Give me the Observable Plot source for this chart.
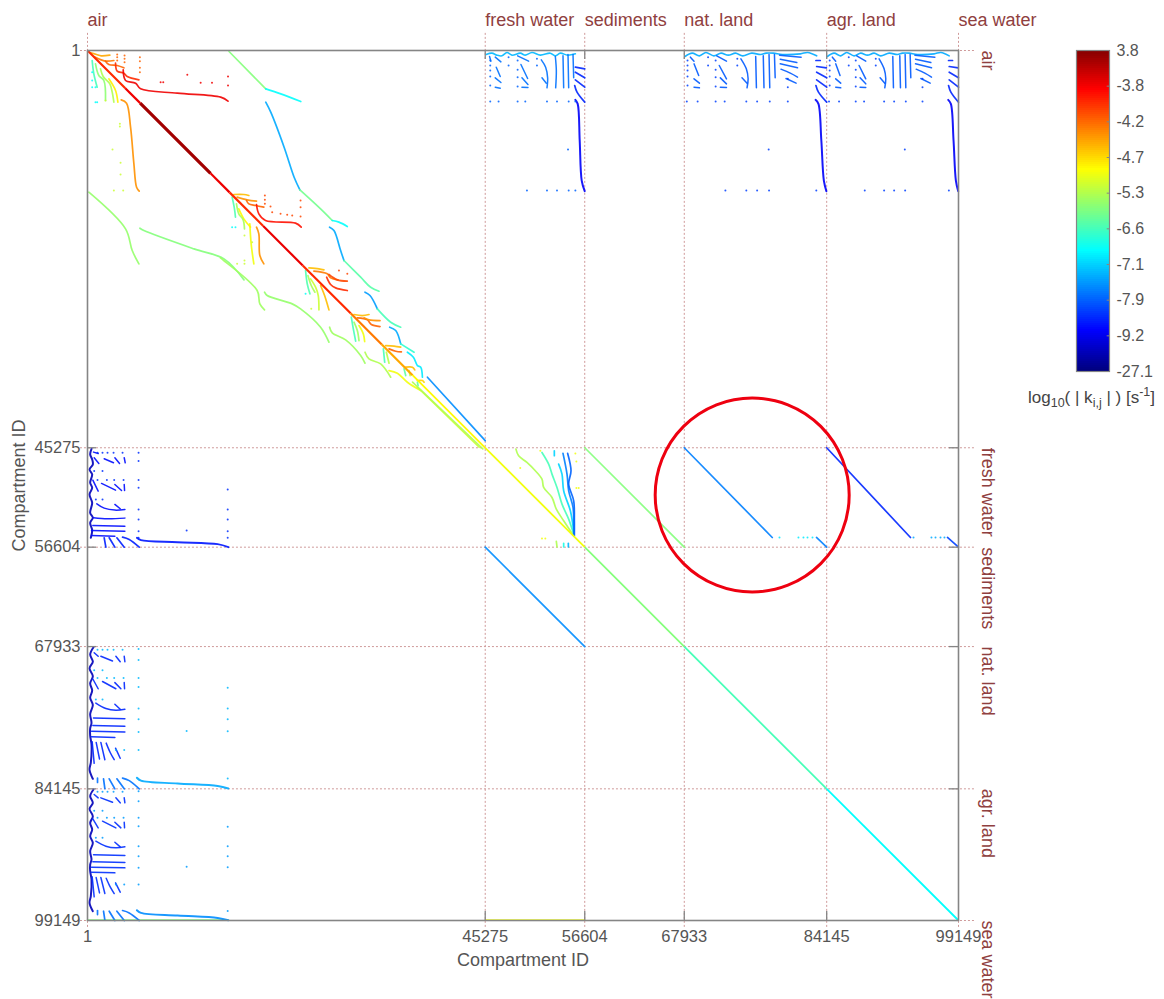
<!DOCTYPE html>
<html><head><meta charset="utf-8">
<script src="https://cdn.jsdelivr.net/npm/d3@7"></script>
<script src="https://cdn.jsdelivr.net/npm/@observablehq/plot@0.6"></script>
<style>
html,body{margin:0;padding:0;background:#fff;overflow:hidden}
#main,#bar{position:absolute;top:0}
#main{left:0}#bar{left:1060px}
#unit{position:absolute;left:1028px;top:388px;font:17px "Liberation Sans",sans-serif;color:#444;white-space:nowrap}
#unit sub,#unit sup{font-size:12.5px;line-height:0}
</style></head><body>
<div id="main"></div><div id="bar"></div>
<div id="unit">log<sub>10</sub>( | k<sub>i,j</sub> | ) [s<sup>-1</sup>]</div>
<script>
// ---------- axes ----------
const blockStarts=[1,45275,56604,67933,84145,99149];
const blockNames=["air","fresh water","sediments","nat. land","agr. land","sea water"];
const colorLabels=[-27.1,-9.2,-7.9,-7.1,-6.6,-5.3,-4.7,-4.2,-3.8,3.8];

// ---------- main diagonal: [from ID, to ID, log10 k] ----------
const diagonal=[[1,4300,-4.0],[4300,6000,-3.7],[6000,14000,1.5],[14000,16170,-3.5],[16170,20000,-4.0],[20000,24500,-3.3],[24500,29950,-4.0],[29950,33500,-4.3],[33500,37000,-4.5],[37000,45275,-4.9],[45275,56604,-5.0],[56604,67933,-5.9],[67933,84145,-6.6],[84145,99149,-6.9]];

// ---------- air block fans: [log10 k, points] ----------
const airFans=[
[-4.5,[[266,228],[1026,456],[1558,608],[2546,532]]],
[-4.3,[[722,684],[1558,1064],[2166,1216],[3002,1140]]],
[-4.2,[[2052,1216],[2432,1596],[3382,1710],[4142,1976]]],
[-4.0,[[3192,1444],[3382,2356],[4142,2584],[4522,2964],[5852,3344]]],
[-3.75,[[4066,2204],[4332,3420],[5472,3724],[6042,4370],[10222,4864],[15162,5320],[15998,5776]]],
[-4.4,[[3838,5624],[4446,6004],[4902,8740],[5282,12920],[5586,15580],[5890,16036]]],
[-4.85,[[2432,3230],[3192,4560],[3458,5890]]],
[-5.4,[[1482,2090],[1786,2964],[2546,3800],[2812,4750],[3002,5890]]],
[-5.8,[[912,1520],[1292,2850],[1862,3420],[2052,5700]]],
[-6.6,[[532,1140],[722,2660],[1102,4180]]],
// second block
[-4.6,[[16655,16411],[17795,16411],[18365,16525]]],
[-4.4,[[17035,16715],[18175,17019],[19239,17171]]],
[-4.2,[[18099,17095],[18365,17475],[19125,17665],[20075,17855]]],
[-3.9,[[19239,17551],[19505,18615],[20265,19375],[23685,19679],[24331,20135]]],
[-4.4,[[19239,20135],[19505,20895],[19619,23365],[20075,24315]]],
[-5.0,[[18479,19755],[18631,22035],[18935,24315]]],
[-4.9,[[17225,18045],[17795,19185],[18555,20135]]],
[-5.5,[[16959,17475],[17225,18615],[17719,19299],[17871,20325]]],
[-6.5,[[16465,16715],[16731,18045],[16845,18995]]],
// third block
[-4.6,[[25205,24771],[26345,24885],[26915,24999]]],
[-4.3,[[25775,25151],[27295,25455],[27675,25911],[28511,26139]]],
[-4.0,[[27219,25835],[27675,26671],[28245,27051],[29575,27355]]],
[-4.1,[[27485,25531],[28435,26139],[29575,26291]]],
[-4.6,[[26535,26785],[26991,27925],[27485,29559]]],
[-5.2,[[25395,26025],[25965,26975],[26269,27925],[26345,29559]]],
[-5.5,[[25091,25645],[25471,26785],[25889,27545]]],
[-6.5,[[24825,25075],[25015,26595],[25319,27735]]],
// fourth block
[-4.6,[[30335,30091],[31285,30205],[32045,30091]]],
[-4.2,[[30715,30471],[31855,30699],[32311,31231],[33299,31459]]],
[-4.4,[[31475,30471],[32045,30699],[33299,30775]]],
[-5.0,[[30905,31345],[31399,32295],[31551,33169]]],
[-5.6,[[30335,30965],[30715,31915],[30905,33055]]],
[-6.6,[[30031,30395],[30259,31725],[30525,33131]]],
// fifth block
[-4.6,[[33945,33625],[34895,33701],[35655,33815]]],
[-4.2,[[34325,34005],[35085,34271],[35731,34347]]],
[-5.3,[[34021,34385],[34325,35639]]],
[-6.6,[[33679,34005],[33831,35525]]],
// sixth and seventh blocks
[-4.6,[[36225,36095],[36985,36095],[37251,36399]]],
[-6.3,[[36035,36285],[36225,37045]]],
[-5.3,[[36605,36475],[36719,37045]]],
[-4.7,[[37555,37615],[38125,37615],[38315,37805]]],
[-6.3,[[37555,37805],[37631,38185]]]
];
const airFanDots=[
[-4.2,[[4218,570],[4218,950],[4218,1330],[5966,760],[5966,1216],[5966,1976],[5966,2470],[3382,456],[3382,760],[3382,1140]]],
[-3.8,[[11362,2774],[8322,3610],[8626,3610],[12882,3686],[14174,3686],[15998,2964],[15998,3990]]],
[-6.9,[[532,2470],[532,3420],[532,4180],[912,4180],[912,5890],[1102,5890]]],
[-5.2,[[2052,5700],[3686,8360],[3686,8664],[2850,11286],[3762,12806],[3762,14136],[3002,15960],[4066,15960]]],
[-4.1,[[20189,16525],[20189,17019],[20189,17475],[20835,17779],[21025,18425],[21975,18615],[22735,18729],[23305,18805],[24255,17095],[24255,17855],[24255,18919],[28625,25075],[29575,25455]]],
[-6.9,[[16465,20135],[16845,20135],[24825,27735]]],
[-5.2,[[17871,21085],[17035,24315],[17871,23935],[17871,24315],[18745,21845],[25471,29445]]]
];

// ---------- couplings inside air ----------
const airAbove=[
[-5.9,[[16112,114],[20292,4370]]],
[-6.9,[[20292,4370],[22002,4940],[24282,5814]]],
[-7.4,[[20292,5890],[20862,7030],[22382,11020],[23522,14440],[24179,15879]]],
[-6.1,[[24179,15879],[26535,18045],[27865,19375]]],
[-6.9,[[27865,19375],[28625,19565],[29575,20059]]],
[-7.4,[[27561,20135],[28055,20515],[28815,22795],[29195,23935]]],
[-6.4,[[29195,23935],[31095,25835],[32235,26975],[33185,27431]]],
[-7.5,[[31589,27545],[32159,27925],[32995,29445]]],
[-6.6,[[32995,29445],[34515,30965],[35655,31535]]],
[-7.4,[[34401,31535],[35085,31915],[35655,33435]]],
[-6.7,[[35655,33435],[37175,34385]]],
[-7.0,[[36415,34385],[37099,34955],[37555,35905],[37935,36095],[38125,37235]]],
[-7.6,[[38695,37235],[45275,44455]]]
];
const airBelow=[
[-5.7,[[152,16150],[4332,20330],[5092,22800],[5852,24320]]],
[-5.9,[[5966,20254],[6422,20520],[12122,22610],[15542,23750],[17822,26144]]],
[-5.6,[[15135,23631],[15515,23935],[19315,27355],[19619,28875],[20151,29559]]],
[-5.7,[[20151,27545],[20455,27925],[23305,28875],[24255,29445],[26535,31535],[27485,33245]]],
[-5.6,[[27561,31535],[27865,32181],[29385,32979],[31095,34765],[31589,35639]]],
[-5.4,[[31589,34385],[32045,35145],[33375,35715],[34515,37235]]],
[-5.0,[[34325,36475],[35275,36779],[36415,37805],[37935,38755]]],
[-5.2,[[37555,38375],[44585,45215]]],
[-5.4,[[37000,37800],[45000,45400]]]
];

// ---------- exchange with fresh water: [along water, along air] ----------
const freshBand=[[114,456],[760,304],[1330,532],[1900,608],[2470,228],[3040,532],[3990,304],[4560,532],[5320,228],[6270,532],[7410,304],[7980,608],[8550,304],[9386,532],[10260,380]];
const freshDrips=[
[[494,684],[646,1216]],[[1140,760],[1786,1292]],[[1254,1900],[1710,2964]],[[1140,3116],[1786,3648]],[[1140,4180],[1710,4294]],
[[3686,608],[4940,1216]],[[4066,1596],[4826,3192]],[[4180,3116],[4864,3876]],[[4180,4180],[4864,4218]],
[[6384,1064],[6878,1900],[7106,3116],[7030,4256]],[[6460,3116],[6954,3724]],
[[7980,684],[8094,2280],[8018,4256]],[[8854,608],[8930,4256]],[[9424,456],[9500,4256]],[[9994,456],[10070,3116]]
];
const freshCurves=[
[[10260,1900],[11329,2090]],[[10260,2470],[11329,3116]],[[10260,3344],[11329,4180]],[[10184,3990],[10450,4750],[11329,5890]]
];
const freshTail=[[10260,5624],[10526,6080],[10754,10260],[10982,14820],[11324,16036]];
const freshDots=[[570,1140],[570,1710],[570,2280],[570,2964],[570,3990],[2660,760],[2660,1710],[3686,1140],[3686,2204],[3686,3040],[3686,4104],[5890,950],[5890,1710],
[570,5814],[1520,5814],[3686,5814],[4560,5814],[7030,5814],[8170,5814],[9500,5814],[10260,5814],[9424,11286],[4750,15960],[7030,15960],[8170,15960],[9500,15960],[10260,15960]];

// ---------- exchange with land: [along land, along air] ----------
const landBand=[[76,684],[836,304],[1596,608],[2280,228],[3116,608],[3876,304],[4636,532],[5396,304],[6156,608],[7106,304],[8056,456],[8626,304],[9386,304],[10336,456],[12236,380],[12996,228],[13946,608]];
const landDrips=[
[[646,760],[1026,1216]],[[1026,1520],[1520,2850]],[[1026,3230],[1596,3724]],[[1026,4180],[1596,4256]],
[[3420,608],[4446,1216]],[[3686,1710],[4446,3230]],[[3800,3116],[4446,3800]],[[3800,4180],[4446,4218]],
[[5966,950],[6536,2090],[6726,3230],[6612,4256]],[[6080,3116],[6612,3724]],
[[7524,684],[7600,4256]],[[8322,608],[8398,4256]],[[8930,456],[9006,4256]],[[9500,456],[9576,3116]],
[[10032,532],[12312,760]],[[10108,988],[11856,1368]],[[10108,1520],[11932,1976]],[[10184,2128],[11172,2584],[11932,3040]],[[10716,3192],[11780,3724]]
];
const landCurves=[
[[13870,1140],[14326,1140]],[[13946,1824],[14972,1976]],[[13946,2470],[15004,3116]],[[13946,3344],[15004,4180]],[[13870,3990],[14136,4750],[15004,5890]]
];
const landTail=[[13832,5624],[14136,6080],[14440,10260],[14706,14820],[14972,16036]];
const landDots=[[342,1140],[342,1710],[342,2280],[342,2964],[342,3990],[2508,760],[2508,1710],[3306,1140],[3306,2204],[3306,3040],[3306,4104],[5586,950],[5586,1710],[10906,3230],[10906,4180],
[266,5814],[1406,5814],[3306,5814],[4256,5814],[6536,5814],[7676,5814],[9006,5814],[10906,5814],[8892,11286],[4332,15960],[6536,15960],[7676,15960],[8930,15960],[13908,15960]];

// log10 k per use: band, drips, curves, tail, dots
const freshTopK=[-7.3,-7.8,-8.6,-9.1,-7.9];
const freshLeftK=[-18,-8.9,-8.7,-8.8,-8.5];
const natTopK=[-7.4,-8.0,-8.6,-9.1,-8.3];
const natLeftK=[-18,-8.6,-7.8,-7.4,-7.3];
const agrTopK=[-7.4,-8.0,-8.6,-9.1,-8.3];
const agrLeftK=[-18,-8.5,-7.8,-7.6,-7.5];

// ---------- water, sediments and land ----------
const freshFans=[
[-5.4,[[3496,152],[3800,912],[4750,1672],[5700,2622],[6460,3572],[6650,4522],[7600,5662],[8094,6992],[8930,8322],[10070,10032]]],
[-6.6,[[6460,532],[7220,1862],[7600,3002],[8170,4522],[8740,6422],[9500,8132],[10070,9842]]],
[-7.1,[[7866,342],[7866,912]]],
[-7.1,[[8360,1862],[8740,3002],[8930,4902],[9690,7182],[10070,9462]]],
[-7.7,[[8854,646],[9310,3002],[9500,4902],[9994,6802],[10070,9842]]],
[-7.9,[[9386,646],[9766,2622],[9500,4142],[10070,6042],[10146,8322],[10146,10032]]],
[-5.4,[[8094,10678],[8170,11286]]],
[-6.8,[[8930,10906],[8930,11286]]],
[-7.3,[[9462,10906],[9462,11286]]]
];
const freshFanDots=[[3990,2318],[6270,342],[10260,646],[10374,1558],[10374,4598],[10640,4598],[6460,10336],[6840,10336]];
const longBands=[
[-5.9,[[56604,45275],[67933,56604]]],
[-7.6,[[45275,56604],[56604,67933]]],
[-7.7,[[67933,45275],[77950,55499]]],
[-7.7,[[82983,55499],[84145,56604]]],
[-8.6,[[84145,45275],[93683,55499]]],
[-8.3,[[97894,55499],[99149,56604]]],
[-5.9,[[1,99100],[16000,99100]]],
[-5.0,[[45275,99100],[56604,99100]]]
];
const landGapDots=[[-7.0,[[78770,55499],[80930,55499],[81500,55499],[81960,55499],[82530,55499]]],[-7.4,[[94030,55499],[96070,55499],[96530,55499],[97100,55499],[97550,55499]]]];
const highlight=[[75664,50656]];

// ---------- tables for the marks ----------
const lineRows=[],dotRows=[];let nid=0;
function addLine(k,pts,mx=p=>p[0],my=p=>p[1],w=1.7){const id=nid++;for(const p of pts)lineRows.push({id,k,w,x:mx(p),y:my(p)});}
function addDots(k,pts,mx=p=>p[0],my=p=>p[1]){for(const p of pts)dotRows.push({k,x:mx(p),y:my(p)});}
airFans.forEach(([k,p])=>addLine(k,p));
airAbove.forEach(([k,p])=>addLine(k,p));
airBelow.forEach(([k,p])=>addLine(k,p));
longBands.forEach(([k,p])=>addLine(k,p));
airFanDots.forEach(([k,p])=>addDots(k,p));
landGapDots.forEach(([k,p])=>addDots(k,p));
freshFans.forEach(([k,p])=>addLine(k,p,q=>45275+q[0],q=>45275+q[1]));
addDots(-5,freshFanDots,q=>45275+q[0],q=>45275+q[1]);
function exchange(start,s,band,drips,curves,tail,dots,topK,leftK){
  const a=q=>start+q[0]*s,b=q=>1+q[1];
  [[topK,a,b],[leftK,b,a]].forEach(([K,mx,my])=>{
    addLine(K[0],band,mx,my,K[0]<-10?2:1.6);
    drips.forEach(p=>addLine(K[1],p,mx,my,1.5));
    curves.forEach(p=>addLine(K[2],p,mx,my,1.7));
    addLine(K[3],tail,mx,my,2);
    addDots(K[4],dots,mx,my);
  });
}
exchange(45275,1,freshBand,freshDrips,freshCurves,freshTail,freshDots,freshTopK,freshLeftK);
exchange(67933,16212/15004,landBand,landDrips,landCurves,landTail,landDots,natTopK,natLeftK);
exchange(84145,1,landBand,landDrips,landCurves,landTail,landDots,agrTopK,agrLeftK);

// jet colour map, with the colour bar's equal-height labels
const jetPos=[0,1/8,3/8,5/8,7/8,1];
const jetCol=["#000080","#0000ff","#00ffff","#ffff00","#ff0000","#800000"];
const jet=d3.scaleLinear().domain(jetPos).range(jetCol);
const kinkK=[-9.04,-6.91,-4.93,-3.85];
const stops=[...colorLabels.map((k,i)=>[k,i/9]),...kinkK.map((k,i)=>[k,jetPos[i+1]])].sort((a,b)=>a[0]-b[0]);

const frameCol="#858585",dashCol="#cf9a9a",nameCol="#8f4040",textCol="#555";
const inner=blockStarts.slice(1,-1);
const main=Plot.plot({
  width:1164,height:999,marginLeft:87,marginRight:206,marginTop:50,marginBottom:79,
  style:{fontFamily:"'Liberation Sans',sans-serif",fontSize:"16.5px",background:"#fff"},
  x:{domain:[1,99149]},
  y:{domain:[1,99149],range:[50,920]},
  color:{type:"linear",domain:stops.map(d=>d[0]),range:stops.map(d=>jet(d[1]))},
  marks:[
    Plot.ruleX(blockStarts,{y1:-1950,y2:99950,stroke:dashCol,strokeWidth:1,strokeDasharray:"2,2"}),
    Plot.ruleY(blockStarts,{x1:-800,x2:101100,stroke:dashCol,strokeWidth:1,strokeDasharray:"2,2"}),
    Plot.line(lineRows,{x:"x",y:"y",z:"id",stroke:"k",strokeWidth:"w",strokeOpacity:.9,strokeLinejoin:"round",curve:"catmull-rom"}),
    Plot.dot(dotRows,{x:"x",y:"y",fill:"k",r:1,fillOpacity:.85}),
    Plot.link(diagonal,{x1:d=>d[0],y1:d=>d[0],x2:d=>d[1],y2:d=>d[1],stroke:d=>d[2],strokeWidth:d=>d[2]>0?3.2:d[2]>-4.6?2.2:1.8}),
    Plot.frame({stroke:frameCol,strokeWidth:1.6}),
    Plot.ruleX(inner,{y1:1,y2:1030,stroke:frameCol,strokeWidth:1.3}),
    Plot.ruleX(inner,{y1:98120,y2:99149,stroke:frameCol,strokeWidth:1.3}),
    Plot.ruleY(inner,{x1:1,x2:1030,stroke:frameCol,strokeWidth:1.3}),
    Plot.ruleY(inner,{x1:98120,x2:99149,stroke:frameCol,strokeWidth:1.3}),
    Plot.axisX({ticks:blockStarts,tickFormat:d=>String(d),tickSize:0,tickPadding:10,color:textCol,label:null}),
    Plot.axisY({ticks:blockStarts,tickFormat:d=>String(d),tickSize:0,tickPadding:7,color:textCol,label:null}),
    Plot.text(["Compartment ID"],{x:49575,y:103700,text:d=>d,fontSize:18,fill:textCol}),
    Plot.text(["Compartment ID"],{x:-7740,y:49572,text:d=>d,fontSize:18,rotate:-90,fill:textCol}),
    Plot.text(blockNames,{x:(d,i)=>blockStarts[i],y:-3450,text:d=>d,textAnchor:"start",fontSize:18,fill:nameCol}),
    Plot.text(blockNames,{x:102500,y:(d,i)=>blockStarts[i],text:d=>d,rotate:90,textAnchor:"start",fontSize:18,fill:nameCol}),
    Plot.dot(highlight,{x:d=>d[0],y:d=>d[1],r:97,stroke:"#ee0010",strokeWidth:3,fill:"none"})
  ]
});
main.querySelectorAll('g[aria-label="line"],g[aria-label="link"]').forEach(g=>g.style.filter="blur(.4px)");
main.querySelector('g[aria-label="dot"]').style.filter="blur(.3px)";
document.getElementById("main").append(main);

// colour bar
const barLevels=d3.range(0,1,1/160);
const barTicks=colorLabels.map((k,i)=>i/9);
const bar=Plot.plot({
  width:104,height:385,marginLeft:16,marginRight:55,marginTop:50,marginBottom:14,
  style:{fontFamily:"'Liberation Sans',sans-serif",fontSize:"16px",background:"transparent"},
  x:{domain:[0,1],axis:null},
  y:{domain:[0,1],axis:null},
  color:{type:"linear",domain:jetPos,range:jetCol},
  marks:[
    Plot.rect(barLevels,{x1:0,x2:1,y1:d=>d,y2:d=>d+1/160,fill:d=>d,shapeRendering:"crispEdges"}),
    Plot.frame({stroke:frameCol,strokeWidth:1.2}),
    Plot.ruleY(barTicks.slice(1,-1),{x1:.93,x2:1,stroke:frameCol}),
    Plot.axisY({anchor:"right",ticks:barTicks,tickFormat:(d,i)=>String(colorLabels[i]),tickSize:0,tickPadding:7,color:textCol,label:null})
  ]
});
document.getElementById("bar").append(bar);
</script></body></html>
